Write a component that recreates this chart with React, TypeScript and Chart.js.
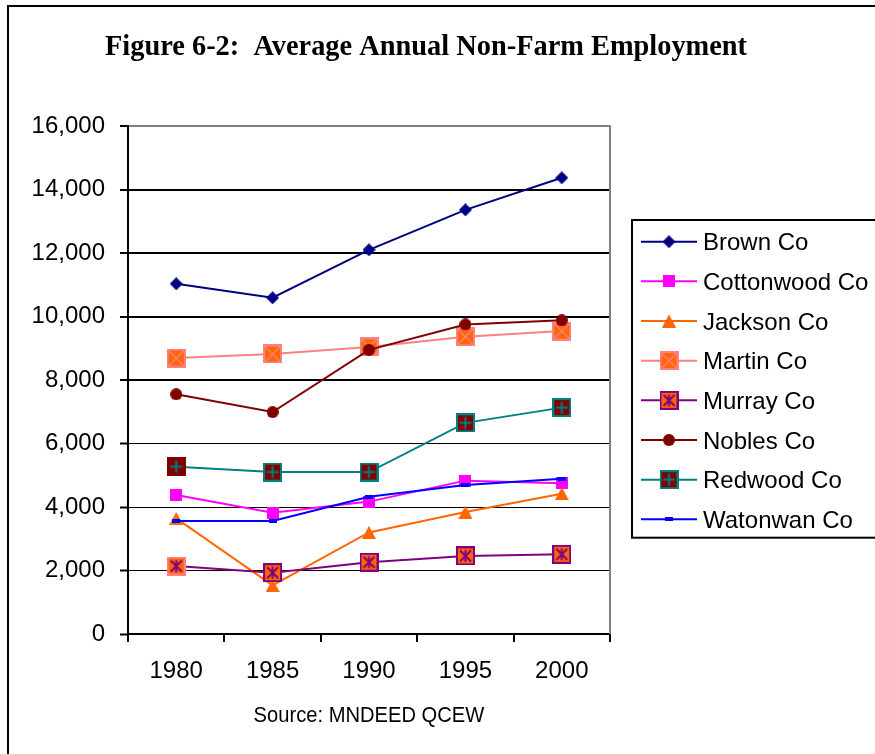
import React, { useEffect, useRef } from 'react';
import { Chart, registerables } from 'chart.js';

Chart.register(...registerables);

const W = 875;
const H = 754;

const years = ['1980', '1985', '1990', '1995', '2000'];
const brownCo = [11030, 10590, 12100, 13360, 14370];
const cottonwoodCo = [4380, 3820, 4170, 4830, 4750];
const jacksonCo = [3640, 1530, 3200, 3840, 4420];
const martinCo = [8690, 8820, 9040, 9360, 9540];
const murrayCo = [2140, 1930, 2260, 2460, 2510];
const noblesCo = [7550, 6990, 8950, 9750, 9880];
const redwoodCo = [5270, 5100, 5100, 6650, 7130];
const watonwanCo = [3560, 3560, 4320, 4690, 4890];

const seriesNames = ['Brown Co', 'Cottonwood Co', 'Jackson Co', 'Martin Co', 'Murray Co', 'Nobles Co', 'Redwood Co', 'Watonwan Co'];
const seriesValues = [brownCo, cottonwoodCo, jacksonCo, martinCo, murrayCo, noblesCo, redwoodCo, watonwanCo];
const seriesColors = ['#000080', '#FF00FF', '#FF6600', '#FF8080', '#800080', '#800000', '#008080', '#0000FF'];

const yMin = 0;
const yMax = 16000;
const yStep = 2000;

const titleText = 'Figure 6-2:  Average Annual Non-Farm Employment';
const sourceText = 'Source: MNDEED QCEW';

function mk(w: number, h: number, draw: (g: CanvasRenderingContext2D) => void) {
  const c = document.createElement('canvas');
  c.width = w;
  c.height = h;
  const g = c.getContext('2d')!;
  draw(g);
  return c;
}

function boxMarker(fill: string, border: string | null, glyph: 'x' | 'star' | 'plus', glyphColor: string) {
  return mk(19, 19, (g) => {
    g.fillStyle = fill;
    g.fillRect(0, 0, 19, 19);
    if (border) {
      g.strokeStyle = border;
      g.lineWidth = 2;
      g.strokeRect(1, 1, 17, 17);
    }
    g.strokeStyle = glyphColor;
    g.lineWidth = glyph === 'x' ? 1.5 : 2;
    g.beginPath();
    if (glyph === 'x' || glyph === 'star') {
      const a = glyph === 'x' ? 2 : 4;
      const b = 19 - a;
      g.moveTo(a, a); g.lineTo(b, b);
      g.moveTo(b, a); g.lineTo(a, b);
    }
    if (glyph === 'star' || glyph === 'plus') {
      g.moveTo(9.5, 3.5); g.lineTo(9.5, 15.5);
    }
    if (glyph === 'plus') {
      g.moveTo(3.5, 9.5); g.lineTo(15.5, 9.5);
    }
    g.stroke();
  });
}

function buildMarkers() {
  const diamond = mk(13, 13, (g) => {
    g.fillStyle = '#000080';
    g.beginPath();
    g.moveTo(6.5, 0); g.lineTo(13, 6.5); g.lineTo(6.5, 13); g.lineTo(0, 6.5);
    g.closePath(); g.fill();
  });
  const square = mk(12, 12, (g) => { g.fillStyle = '#FF00FF'; g.fillRect(0, 0, 12, 12); });
  const triangle = mk(14, 13, (g) => {
    g.fillStyle = '#FF6600';
    g.beginPath();
    g.moveTo(7, 0); g.lineTo(14, 13); g.lineTo(0, 13);
    g.closePath(); g.fill();
  });
  const martin = boxMarker('#FF6600', '#FF8080', 'x', '#FF8080');
  const murray = boxMarker('#FF6600', '#800080', 'star', '#800080');
  const murrayFirst = boxMarker('#FF6600', '#FF8080', 'star', '#800080');
  const circle = mk(12, 12, (g) => {
    g.fillStyle = '#800000';
    g.beginPath(); g.arc(6, 6, 6, 0, Math.PI * 2); g.fill();
  });
  const redwood = boxMarker('#800000', '#008080', 'plus', '#008080');
  const redwoodFirst = boxMarker('#800000', null, 'plus', '#008080');
  const dash = mk(8, 4, (g) => { g.fillStyle = '#0000FF'; g.fillRect(0, 0, 8, 4); });
  return {
    legend: [diamond, square, triangle, martin, murray, circle, redwood, dash],
    points: [
      diamond, square, triangle, martin,
      [murrayFirst, murray, murray, murray, murray],
      circle,
      [redwoodFirst, redwood, redwood, redwood, redwood],
      dash,
    ] as any[],
  };
}

export default function App() {
  const ref = useRef<HTMLCanvasElement>(null);

  useEffect(() => {
    const canvas = ref.current!;
    const markers = buildMarkers();
    const font = "'Liberation Sans', Arial, sans-serif";

    const decor = {
      id: 'decor',
      beforeDraw(chart: any) {
        const ctx = chart.ctx as CanvasRenderingContext2D;
        ctx.save();
        ctx.fillStyle = '#fff';
        ctx.fillRect(0, 0, chart.width, chart.height);
        ctx.restore();
      },
      afterDraw(chart: any) {
        const ctx = chart.ctx as CanvasRenderingContext2D;
        const area = chart.chartArea;
        ctx.save();
        // outer frame
        ctx.strokeStyle = '#000';
        ctx.lineWidth = 2;
        ctx.beginPath();
        ctx.moveTo(8, 6); ctx.lineTo(8, H + 2);
        ctx.moveTo(7, 6); ctx.lineTo(W + 2, 6);
        ctx.stroke();
        // plot area right border
        ctx.strokeStyle = '#808080';
        ctx.beginPath();
        ctx.moveTo(area.right, area.top - 1); ctx.lineTo(area.right, area.bottom);
        ctx.stroke();

        // title
        ctx.fillStyle = '#000';
        ctx.textBaseline = 'alphabetic';
        ctx.textAlign = 'left';
        ctx.font = "bold 23px 'Liberation Serif', 'Times New Roman', serif";
        let m = ctx.measureText(titleText);
        const ink = m.actualBoundingBoxLeft + m.actualBoundingBoxRight;
        const tSize = (23 * 643) / ink;
        ctx.font = `bold ${tSize}px 'Liberation Serif', 'Times New Roman', serif`;
        m = ctx.measureText(titleText);
        ctx.fillText(titleText, 105 + m.actualBoundingBoxLeft, 55);

        // source
        ctx.font = `22px ${font}`;
        m = ctx.measureText(sourceText);
        const sInk = m.actualBoundingBoxLeft + m.actualBoundingBoxRight;
        const sx = 230 / sInk;
        ctx.save();
        ctx.translate(254.5, 722);
        ctx.scale(sx, 1);
        ctx.fillText(sourceText, m.actualBoundingBoxLeft, 0);
        ctx.restore();

        // legend
        ctx.strokeStyle = '#000';
        ctx.lineWidth = 2;
        ctx.strokeRect(632, 220, 280, 317.7);
        ctx.font = `24px ${font}`;
        for (let i = 0; i < seriesNames.length; i++) {
          const cy = 241.7 + i * 39.66;
          ctx.strokeStyle = seriesColors[i];
          ctx.lineWidth = 2;
          ctx.beginPath();
          ctx.moveTo(641, cy); ctx.lineTo(697, cy);
          ctx.stroke();
          const img = markers.legend[i];
          ctx.drawImage(img, 669 - img.width / 2, cy - img.height / 2);
          ctx.fillStyle = '#000';
          ctx.fillText(seriesNames[i], 703, cy + 8.6);
        }
        ctx.restore();
      },
    };

    const chart = new Chart(canvas, {
      type: 'line',
      data: {
        labels: years,
        datasets: seriesValues.map((vals, i) => ({
          label: seriesNames[i],
          data: vals,
          borderColor: seriesColors[i],
          backgroundColor: seriesColors[i],
          borderWidth: 2,
          pointStyle: markers.points[i],
          pointRadius: 5,
          fill: false,
          tension: 0,
          order: seriesNames.length - i,
        })),
      },
      options: {
        responsive: false,
        animation: false,
        events: [],
        layout: { padding: { top: 126, right: W - 610, left: 0, bottom: 0 } },
        plugins: {
          legend: { display: false },
          title: { display: false },
          tooltip: { enabled: false },
        },
        scales: {
          x: {
            offset: true,
            grid: {
              offset: true,
              drawOnChartArea: false,
              color: '#000',
              lineWidth: 2,
              tickLength: 8,
            },
            border: { color: '#000', width: 2 },
            ticks: { color: '#000', font: { family: font, size: 24 }, padding: 15, maxRotation: 0 },
            afterFit: (s: any) => { s.height = H - 634; },
          },
          y: {
            min: yMin,
            max: yMax,
            grid: {
              color: (c: any) => (c.tick && c.tick.value === yMax ? '#808080' : '#000'),
              lineWidth: (c: any) => (c.tick && c.tick.value >= 8000 ? 2 : 1),
              tickColor: '#000',
              tickWidth: 2,
              tickLength: 8,
            },
            border: { color: '#000', width: 2 },
            ticks: {
              stepSize: yStep,
              color: '#000',
              font: { family: font, size: 24 },
              padding: 15,
              callback: (v: any) => Number(v).toLocaleString('en-US'),
            },
            afterFit: (s: any) => { s.width = 128; },
          },
        },
      },
      plugins: [decor],
    } as any);

    return () => chart.destroy();
  }, []);

  return (
    <div style={{ position: 'absolute', left: 0, top: 0, width: W, height: H, background: '#fff' }}>
      <canvas ref={ref} width={W} height={H} style={{ width: W, height: H, display: 'block' }} />
    </div>
  );
}
